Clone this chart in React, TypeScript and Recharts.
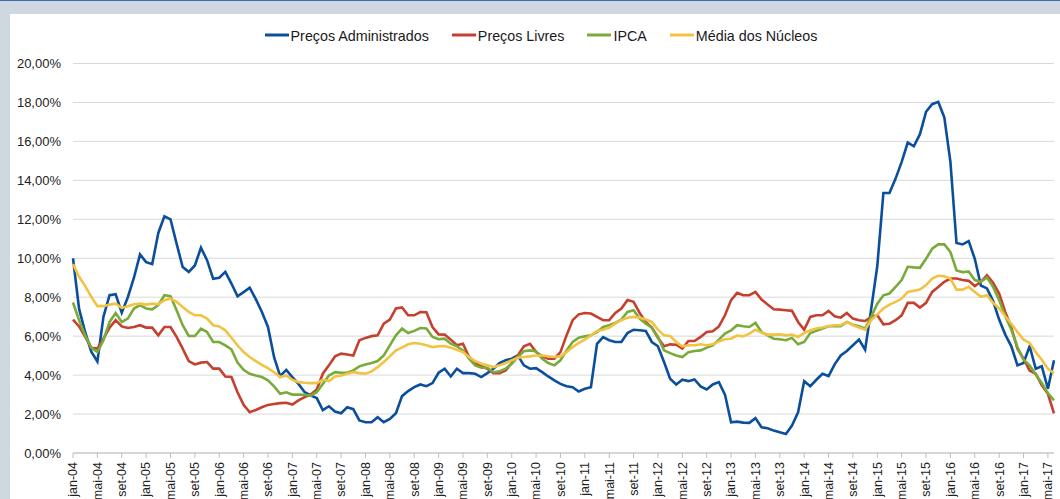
import React from 'react';
import { LineChart, Line, XAxis, YAxis, CartesianGrid, Legend } from 'recharts';

const MONTHS = ['jan', 'fev', 'mar', 'abr', 'mai', 'jun', 'jul', 'ago', 'set', 'out', 'nov', 'dez'];
const YEARS = ['04', '05', '06', '07', '08', '09', '10', '11', '12', '13', '14', '15', '16', '17'];
const Y_TICKS = [0, 2, 4, 6, 8, 10, 12, 14, 16, 18, 20];

// Preços Administrados, jan-04 .. jun-17
const administrados = [
  10.0, 7.4, 6.2, 5.2, 4.7, 7.0, 8.1, 8.15, 7.2, 8.0, 9.0, 10.2,
  9.8, 9.7, 11.3, 12.15, 12.0, 10.75, 9.55, 9.3, 9.63, 10.54, 9.9, 8.95,
  9.0, 9.3, 8.7, 8.04, 8.26, 8.49, 7.9, 7.24, 6.47, 4.92, 3.95, 4.27,
  3.9, 3.55, 3.13, 2.96, 2.82, 2.2, 2.4, 2.13, 2.04, 2.35, 2.25, 1.67,
  1.58, 1.58, 1.84, 1.58, 1.75, 2.04, 2.92, 3.18, 3.38, 3.52, 3.43, 3.59,
  4.12, 4.33, 3.93, 4.33, 4.1, 4.1, 4.07, 3.9, 4.1, 4.33, 4.62, 4.76,
  4.84, 5.01, 4.5, 4.33, 4.36, 4.15, 3.93, 3.73, 3.55, 3.43, 3.38, 3.16,
  3.3, 3.38, 5.6, 5.95, 5.79, 5.7, 5.7, 6.16, 6.33, 6.3, 6.27, 5.7,
  5.48, 4.67, 3.81, 3.52, 3.76, 3.69, 3.78, 3.42, 3.26, 3.52, 3.64, 3.0,
  1.58, 1.61, 1.56, 1.55, 1.79, 1.32, 1.27, 1.15, 1.06, 0.98, 1.41, 2.09,
  3.69, 3.43, 3.76, 4.07, 3.95, 4.55, 5.01, 5.24, 5.53, 5.82, 5.3, 7.4,
  9.6, 13.35, 13.35, 14.09, 14.95, 15.94, 15.75, 16.37, 17.52, 17.91, 18.03, 17.23,
  14.95, 10.78, 10.71, 10.88, 9.97, 8.6, 8.45, 7.8, 6.85, 6.08, 5.48, 4.5,
  4.62, 5.48, 4.33, 4.45, 3.3, 4.76,
];

const livres = [
  6.85, 6.5, 5.96, 5.4, 5.36, 5.87, 6.44, 6.82, 6.5, 6.42, 6.47, 6.56,
  6.44, 6.44, 6.04, 6.47, 6.47, 5.96, 5.36, 4.72, 4.55, 4.64, 4.67, 4.33,
  4.33, 3.93, 3.9, 3.12, 2.47, 2.09, 2.21, 2.35, 2.47, 2.52, 2.56, 2.58,
  2.49, 2.7, 2.87, 3.0, 3.26, 4.07, 4.5, 4.96, 5.1, 5.06, 5.01, 5.79,
  5.91, 6.0, 6.04, 6.64, 6.85, 7.42, 7.47, 7.07, 7.07, 7.24, 7.23, 6.47,
  6.09, 6.08, 5.82, 5.53, 5.61, 4.93, 4.64, 4.45, 4.33, 4.1, 4.1, 4.24,
  4.62, 5.01, 5.48, 5.61, 5.18, 4.96, 4.84, 4.84, 5.18, 6.04, 6.82, 7.12,
  7.19, 7.16, 6.99, 6.82, 6.82, 7.19, 7.42, 7.85, 7.76, 7.19, 6.73, 6.44,
  5.92, 5.48, 5.58, 5.56, 5.36, 5.75, 5.75, 5.96, 6.21, 6.25, 6.5, 7.07,
  7.85, 8.22, 8.1, 8.1, 8.27, 7.88, 7.62, 7.38, 7.36, 7.33, 7.3, 6.73,
  6.33, 6.99, 7.07, 7.07, 7.3, 7.02, 6.95, 7.19, 6.9, 6.82, 6.78, 6.99,
  7.07, 6.61, 6.64, 6.82, 7.07, 7.71, 7.71, 7.47, 7.71, 8.27, 8.53, 8.79,
  8.96, 8.96, 8.88, 8.84, 8.57, 8.79, 9.13, 8.74, 8.19, 7.24, 6.44, 5.36,
  4.84, 4.24, 4.07, 3.47, 3.04, 2.04,
];

const ipca = [
  7.73, 6.82, 6.04, 5.41, 5.18, 5.79, 6.73, 7.19, 6.73, 6.9, 7.42, 7.59,
  7.42, 7.38, 7.59, 8.1, 8.05, 7.33, 6.56, 6.01, 6.01, 6.39, 6.21, 5.7,
  5.7, 5.53, 5.32, 4.64, 4.27, 4.07, 3.98, 3.9, 3.73, 3.42, 3.04, 3.12,
  3.0, 3.0, 2.99, 2.95, 3.12, 3.55, 3.98, 4.15, 4.12, 4.12, 4.24, 4.45,
  4.55, 4.62, 4.72, 5.01, 5.53, 6.04, 6.39, 6.16, 6.27, 6.42, 6.39, 5.96,
  5.84, 5.87, 5.61, 5.48, 5.27, 4.84, 4.5, 4.38, 4.38, 4.15, 4.19, 4.33,
  4.58, 4.93, 5.22, 5.27, 5.22, 4.84, 4.62, 4.5, 4.76, 5.27, 5.7, 5.92,
  5.99, 6.04, 6.21, 6.47, 6.56, 6.68, 6.85, 7.24, 7.33, 6.9, 6.64, 6.44,
  5.96, 5.27, 5.13, 5.01, 4.93, 5.18, 5.24, 5.27, 5.41, 5.53, 5.82, 6.13,
  6.3, 6.56, 6.51, 6.47, 6.68, 6.21, 6.04, 5.87, 5.84, 5.79, 5.91, 5.58,
  5.7, 6.16, 6.27, 6.39, 6.51, 6.51, 6.51, 6.73, 6.59, 6.51, 6.39, 6.99,
  7.67, 8.1, 8.19, 8.53, 8.88, 9.56, 9.53, 9.51, 9.97, 10.49, 10.71, 10.71,
  10.32, 9.37, 9.29, 9.32, 8.88, 8.79, 9.01, 8.53, 7.85, 7.02, 6.33, 5.44,
  4.79, 4.5, 4.03, 3.59, 3.07, 2.7,
];

const nucleos = [
  9.7, 9.05, 8.57, 8.02, 7.54, 7.54, 7.62, 7.67, 7.45, 7.54, 7.64, 7.67,
  7.62, 7.67, 7.64, 7.85, 7.93, 7.76, 7.5, 7.24, 7.07, 7.07, 6.9, 6.56,
  6.5, 6.3, 5.92, 5.53, 5.18, 4.93, 4.72, 4.53, 4.36, 4.15, 3.9, 3.98,
  3.76, 3.64, 3.61, 3.59, 3.59, 3.76, 3.69, 3.93, 3.98, 4.07, 4.15, 4.1,
  4.07, 4.19, 4.41, 4.67, 4.96, 5.27, 5.41, 5.58, 5.65, 5.61, 5.53, 5.44,
  5.48, 5.49, 5.41, 5.3, 5.18, 4.93, 4.72, 4.58, 4.5, 4.41, 4.5, 4.62,
  4.76, 4.89, 4.93, 4.96, 5.01, 5.01, 4.96, 4.93, 4.96, 5.18, 5.44, 5.65,
  5.82, 6.04, 6.27, 6.33, 6.44, 6.64, 6.82, 6.95, 6.99, 6.95, 6.85, 6.73,
  6.33, 6.04, 6.01, 5.7, 5.48, 5.53, 5.53, 5.58, 5.53, 5.58, 5.73, 5.84,
  5.87, 6.03, 5.99, 6.13, 6.33, 6.18, 6.08, 6.08, 6.09, 6.04, 6.08, 5.96,
  6.16, 6.3, 6.39, 6.44, 6.52, 6.56, 6.56, 6.73, 6.56, 6.44, 6.33, 6.82,
  7.12, 7.42, 7.62, 7.76, 7.93, 8.27, 8.33, 8.39, 8.62, 8.96, 9.1, 9.08,
  8.96, 8.39, 8.39, 8.53, 8.27, 8.02, 8.1, 7.71, 7.42, 7.02, 6.64, 6.21,
  5.82, 5.65, 5.18, 4.79, 4.33, 4.1,
];

const SERIES = [
  { key: 'adm', name: 'Preços Administrados', color: '#0b4f9c' },
  { key: 'livres', name: 'Preços Livres', color: '#c5402e' },
  { key: 'ipca', name: 'IPCA', color: '#78ab3a' },
  { key: 'nucleos', name: 'Média dos Núcleos', color: '#f2c342' },
];

const labels: string[] = [];
YEARS.forEach((y) => MONTHS.forEach((m) => labels.push(`${m}-${y}`)));

const data = administrados.map((v, i) => ({
  label: labels[i],
  adm: v,
  livres: livres[i],
  ipca: ipca[i],
  nucleos: nucleos[i],
}));

const FONT = '"Liberation Sans", Arial, sans-serif';

const fmtPct = (v: number) => v.toFixed(2).replace('.', ',') + '%';

function XTick({ x, y, payload }: any) {
  return (
    <g transform={`translate(${x},${y})`}>
      <text transform="rotate(-90)" textAnchor="end" dy="0.35em" fontSize={12.5} fill="#222" fontFamily={FONT}>
        {payload.value}
      </text>
    </g>
  );
}

function LegendContent() {
  return (
    <div
      style={{
        display: 'flex',
        justifyContent: 'center',
        gap: 22,
        paddingTop: 6,
        paddingLeft: 17,
        fontFamily: FONT,
        fontSize: 14.3,
        lineHeight: '16px',
        color: '#1a1a1a',
      }}
    >
      {SERIES.map((s) => (
        <div key={s.key} style={{ display: 'flex', alignItems: 'center' }}>
          <svg width={26} height={16} style={{ marginRight: 1 }}>
            <line x1={1} y1={7} x2={25} y2={7} stroke={s.color} strokeWidth={3} />
          </svg>
          <span>{s.name}</span>
        </div>
      ))}
    </div>
  );
}

export default function App() {
  return (
    <div
      style={{
        position: 'absolute',
        left: 0,
        top: 0,
        width: 1060,
        height: 499,
        background: '#cfd8e0',
        borderTop: '1px solid #3a6fb3',
        boxSizing: 'border-box',
      }}
    >
      <div style={{ position: 'absolute', left: 10, top: 13, width: 1050, height: 485, background: '#fff' }}>
        <LineChart width={1050} height={485} data={data} margin={{ top: 8, right: 6, left: 0, bottom: 0 }}>
          <CartesianGrid vertical={false} stroke="#d9d9d9" />
          <XAxis
            dataKey="label"
            interval={3}
            tickSize={5}
            tickMargin={4}
            height={46}
            axisLine={{ stroke: '#bfbfbf' }}
            tickLine={{ stroke: '#bfbfbf' }}
            tick={<XTick />}
          />
          <YAxis
            width={63}
            domain={[0, 20]}
            ticks={Y_TICKS}
            tickFormatter={fmtPct}
            axisLine={false}
            tickLine={false}
            tickSize={0}
            tickMargin={12}
            tick={{ fontSize: 13, fill: '#222', fontFamily: FONT }}
          />
          <Legend verticalAlign="top" height={41.5} content={<LegendContent />} />
          {SERIES.map((s) => (
            <Line
              key={s.key}
              type="linear"
              dataKey={s.key}
              name={s.name}
              stroke={s.color}
              strokeWidth={2.6}
              dot={false}
              isAnimationActive={false}
            />
          ))}
        </LineChart>
      </div>
    </div>
  );
}
